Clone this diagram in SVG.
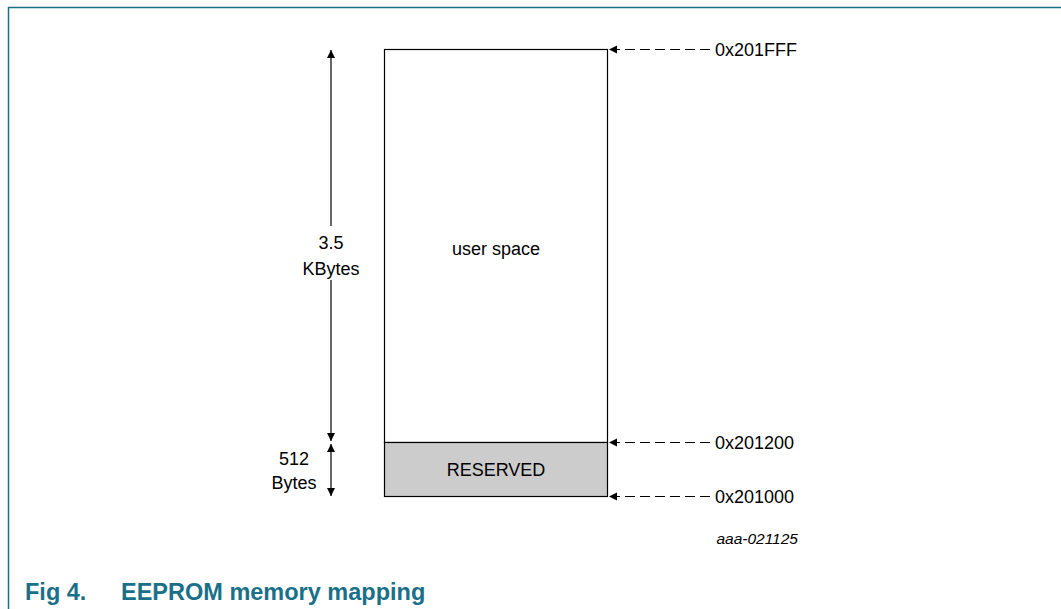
<svg xmlns="http://www.w3.org/2000/svg" width="1061" height="609" viewBox="0 0 1061 609">
<style>
.t{font-family:"Liberation Sans",Arial,sans-serif;font-size:18px;fill:#000}
.ln{stroke:#000;stroke-width:1.2;fill:none}
.ds{stroke:#000;stroke-width:1.2;fill:none;stroke-dasharray:10,5}
.cap{font-family:"Liberation Sans",Arial,sans-serif;font-size:23.5px;font-weight:bold;fill:#1a7088}
</style>
<defs>
<marker id="ah" viewBox="0 0 10 10" refX="10" refY="5" markerWidth="8" markerHeight="9" markerUnits="userSpaceOnUse" orient="auto">
<path d="M0,0 L10,5 L0,10 z" fill="#000"/>
</marker>
</defs>
<rect width="1061" height="609" fill="#fff"/>
<g id="frame">
<path d="M8.5,609 V7.5 H1061" stroke="#1a7088" stroke-width="1.5" fill="none"/>
</g>
<g id="user-space">
<rect x="384.5" y="49.5" width="223" height="393" fill="#fff" stroke="#000" stroke-width="1.2"/>
<text class="t" x="496" y="255" text-anchor="middle">user space</text>
</g>
<g id="reserved">
<rect x="384.5" y="442.5" width="223" height="54" fill="#cccccc" stroke="#000" stroke-width="1.2"/>
<text class="t" x="496" y="476" text-anchor="middle">RESERVED</text>
</g>
<g id="connectors">
<line class="ln" x1="331" y1="226" x2="331" y2="50" marker-end="url(#ah)"/>
<line class="ln" x1="331" y1="280" x2="331" y2="441" marker-end="url(#ah)"/>
<line class="ln" x1="331" y1="470" x2="331" y2="444" marker-end="url(#ah)"/>
<line class="ln" x1="331" y1="470" x2="331" y2="496" marker-end="url(#ah)"/>
<line class="ds" x1="710" y1="49.5" x2="609" y2="49.5" marker-end="url(#ah)"/>
<line class="ds" x1="710" y1="442.5" x2="609" y2="442.5" marker-end="url(#ah)"/>
<line class="ds" x1="710" y1="496.5" x2="609" y2="496.5" marker-end="url(#ah)"/>
</g>
<g id="labels">
<text class="t" x="331" y="249" text-anchor="middle">3.5</text>
<text class="t" x="331" y="275" text-anchor="middle">KBytes</text>
<text class="t" x="294" y="465" text-anchor="middle">512</text>
<text class="t" x="294" y="489" text-anchor="middle">Bytes</text>
<text class="t" x="715" y="56">0x201FFF</text>
<text class="t" x="715" y="449">0x201200</text>
<text class="t" x="715" y="503">0x201000</text>
<text x="798" y="544" text-anchor="end" font-family="'Liberation Sans',Arial,sans-serif" font-size="15.5" font-style="italic" fill="#000">aaa-021125</text>
</g>
<g id="caption">
<text class="cap" x="25" y="600">Fig 4.</text>
<text class="cap" x="121" y="600">EEPROM memory mapping</text>
</g>
</svg>
